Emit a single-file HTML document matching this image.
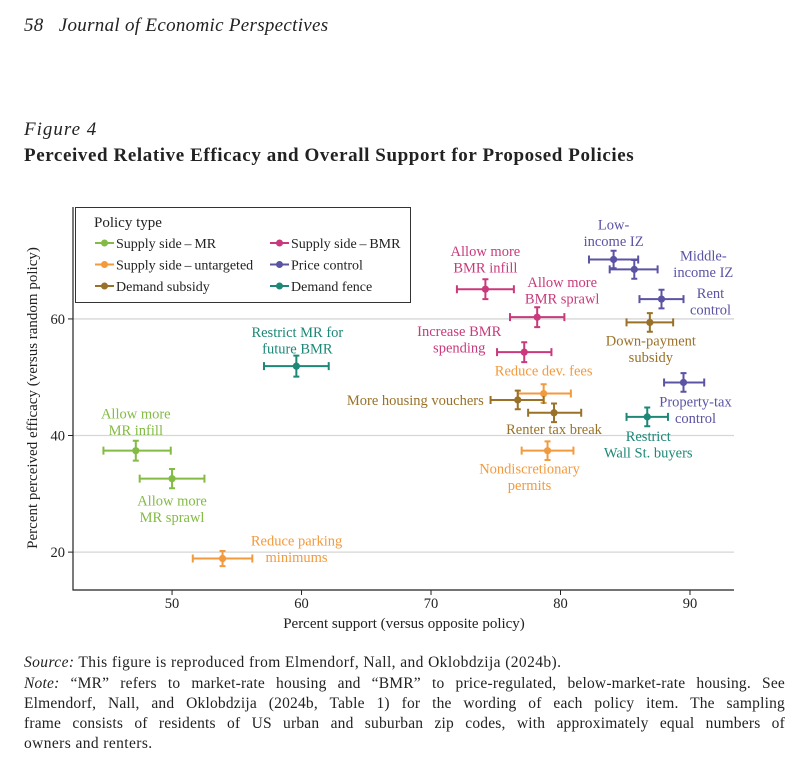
<!DOCTYPE html>
<html><head><meta charset="utf-8"><style>
html,body{margin:0;padding:0;background:#fff;}
body{width:792px;height:782px;overflow:hidden;font-family:"Liberation Serif",serif;color:#222;position:relative;}
.t{position:absolute;white-space:nowrap;}
.fn{position:absolute;left:24px;width:761px;font-size:15.5px;letter-spacing:0.2px;white-space:nowrap;}
.j{text-align:justify;text-align-last:justify;}
</style></head><body>
<div class="t" style="left:24px;top:15px;font-size:19px;letter-spacing:0.3px;font-style:italic;">58&nbsp;&nbsp;&nbsp;Journal of Economic Perspectives</div>
<div class="t" style="left:24px;top:119px;font-size:19px;letter-spacing:1px;font-style:italic;">Figure 4</div>
<div class="t" style="left:24px;top:145px;font-size:19px;letter-spacing:0.6px;font-weight:bold;">Perceived Relative Efficacy and Overall Support for Proposed Policies</div>
<div>
<div class="fn" style="top:654px;letter-spacing:0.4px;"><i>Source:</i> This figure is reproduced from Elmendorf, Nall, and Oklobdzija (2024b).</div>
<div class="fn j" style="top:675px;"><i>Note:</i> “MR” refers to market-rate housing and “BMR” to price-regulated, below-market-rate housing. See</div>
<div class="fn j" style="top:695px;">Elmendorf, Nall, and Oklobdzija (2024b, Table 1) for the wording of each policy item. The sampling</div>
<div class="fn j" style="top:715px;">frame consists of residents of US urban and suburban zip codes, with approximately equal numbers of</div>
<div class="fn" style="top:735px;letter-spacing:0.4px;">owners and renters.</div>
</div>
<svg id="chart" width="792" height="782" style="position:absolute;left:0;top:0;" font-family="Liberation Serif, serif"></svg>
<script>
const names=["Allow more MR infill","Allow more MR sprawl","Reduce parking minimums","Restrict MR for future BMR","Allow more BMR infill","Allow more BMR sprawl","Increase BMR spending","Low-income IZ","Middle-income IZ","Rent control","Down-payment subsidy","Property-tax control","Restrict Wall St. buyers","Reduce dev. fees","More housing vouchers","Renter tax break","Nondiscretionary permits"];
const types=[0,0,1,5,3,3,3,4,4,4,2,4,5,1,2,2,1];
const support=[47.2,50.0,53.9,59.6,74.2,78.2,77.2,84.1,85.7,87.8,86.9,89.5,86.7,78.7,76.7,79.5,79.0];
const supportLo=[44.7,47.5,51.6,57.1,72.0,76.1,75.1,82.2,83.8,86.1,85.1,88.0,85.1,76.7,74.6,77.5,77.0];
const supportHi=[49.9,52.5,56.2,62.1,76.4,80.3,79.3,86.0,87.5,89.5,88.7,91.1,88.3,80.8,78.7,81.6,81.0];
const efficacy=[37.4,32.6,18.9,51.9,65.1,60.3,54.3,70.2,68.5,63.4,59.4,49.1,43.2,47.2,46.1,43.9,37.4];
const efficacyErr=[1.7,1.65,1.3,1.8,1.7,1.7,1.7,1.5,1.6,1.6,1.6,1.6,1.6,1.6,1.6,1.6,1.6];
const typeNames=["Supply side\u2009\u2013\u2009MR","Supply side\u2009\u2013\u2009untargeted","Demand subsidy","Supply side\u2009\u2013\u2009BMR","Price control","Demand fence"];
const colors=["#84bb45","#f29a3e","#9a7128","#c93a7c","#5b53a3","#1d8878"];
const xTicks=[50,60,70,80,90];
const yTicks=[20,40,60];
const labels=[
 [["Allow more","MR infill"],"middle",0,-32],
 [["Allow more","MR sprawl"],"middle",0,27],
 [["Reduce parking","minimums"],"middle",74,-13],
 [["Restrict MR for","future BMR"],"middle",1,-29],
 [["Allow more","BMR infill"],"middle",0,-33],
 [["Allow more","BMR sprawl"],"middle",25,-30],
 [["Increase BMR","spending"],"middle",-65,-16],
 [["Low-","income IZ"],"middle",0,-30],
 [["Middle-","income IZ"],"middle",69,-9],
 [["Rent","control"],"middle",49,-1],
 [["Down-payment","subsidy"],"middle",1,23],
 [["Property-tax","control"],"middle",12,24],
 [["Restrict","Wall St. buyers"],"middle",1,24],
 [["Reduce dev. fees"],"middle",0,-18],
 [["More housing vouchers"],"end",-34,5],
 [["Renter tax break"],"middle",0,21],
 [["Nondiscretionary","permits"],"middle",-18,23]
];
const X0=73,X1=734,Y0=207,Y1=590;
const xMin=42.35,xMax=93.4,yMin=13.5,yMax=79.2;
const sx=v=>X0+(v-xMin)/(xMax-xMin)*(X1-X0);
const sy=v=>Y1-(v-yMin)/(yMax-yMin)*(Y1-Y0);
const svg=document.getElementById('chart');
const NS="http://www.w3.org/2000/svg";
function mk(tag,attrs,parent){const e=document.createElementNS(NS,tag);for(const k in attrs)e.setAttribute(k,attrs[k]);(parent||svg).appendChild(e);return e;}
yTicks.forEach(v=>{
 const g=mk('line',{x1:X0,x2:X1,y1:sy(v),y2:sy(v),stroke:'#d6d6d6','stroke-width':1.3});
 
 
 const tk=mk('line',{x1:X0-5,x2:X0,y1:sy(v),y2:sy(v),stroke:'#222'});
 
 
 const t=mk('text',{x:X0-8,y:sy(v)+5,'text-anchor':'end','font-size':14.5,fill:'#222'});
 t.textContent=v;
 
 
});
xTicks.forEach(v=>{
 const tk=mk('line',{x1:sx(v),x2:sx(v),y1:Y1,y2:Y1+5,stroke:'#222'});
 
 
 const t=mk('text',{x:sx(v),y:Y1+18,'text-anchor':'middle','font-size':14.5,fill:'#222'});
 t.textContent=v;
 
 
});
const ax=mk('path',{d:`M${X0} ${Y0}V${Y1}H${X1}`,fill:'none',stroke:'#222','stroke-width':1.2});


const xt=mk('text',{x:404,y:628,'text-anchor':'middle','font-size':15,fill:'#222'});
xt.textContent="Percent support (versus opposite policy)";


const yt=mk('text',{x:0,y:0,'text-anchor':'middle','font-size':15,fill:'#222',transform:'translate(37,398) rotate(-90)'});
yt.textContent="Percent perceived efficacy (versus random policy)";


support.forEach((v,i)=>{
 const c=colors[types[i]];
 const g=mk('g',{});
 
 
 const x=sx(v),y=sy(efficacy[i]),xl=sx(supportLo[i]),xh=sx(supportHi[i]),yl=sy(efficacy[i]-efficacyErr[i]),yh=sy(efficacy[i]+efficacyErr[i]);
 mk('path',{d:`M${xl} ${y}H${xh}M${xl} ${y-4}V${y+4}M${xh} ${y-4}V${y+4}M${x} ${yl}V${yh}M${x-3} ${yl}H${x+3}M${x-3} ${yh}H${x+3}`,stroke:c,'stroke-width':2,fill:'none'},g);
 mk('circle',{cx:x,cy:y,r:3.6,fill:c},g);
 const L=labels[i];
 L[0].forEach((s,k)=>{
  const t=mk('text',{x:x+L[2],y:y+L[3]+k*16.5,'text-anchor':L[1],'font-size':14.5,fill:c});
  t.textContent=s;
  
  
 });
});
const lg=mk('g',{});


mk('rect',{x:75.5,y:207.5,width:335,height:95,fill:'#fff',stroke:'#333','stroke-width':1},lg);
const lt=mk('text',{x:94,y:227,'font-size':15,fill:'#222'},lg);
lt.textContent="Policy type";
typeNames.forEach((s,k)=>{
 const col=k<3?0:1,row=k%3;
 const x=col?270:95,y=243+row*21.5;
 const e=mk('g',{},lg);
 
 
 mk('line',{x1:x,x2:x+19,y1:y,y2:y,stroke:colors[k],'stroke-width':2},e);
 mk('circle',{cx:x+9.5,cy:y,r:3.5,fill:colors[k]},e);
 const t=mk('text',{x:x+21,y:y+5,'font-size':14,fill:'#222'},e);
 t.textContent=s;
});
</script>
</body></html>
